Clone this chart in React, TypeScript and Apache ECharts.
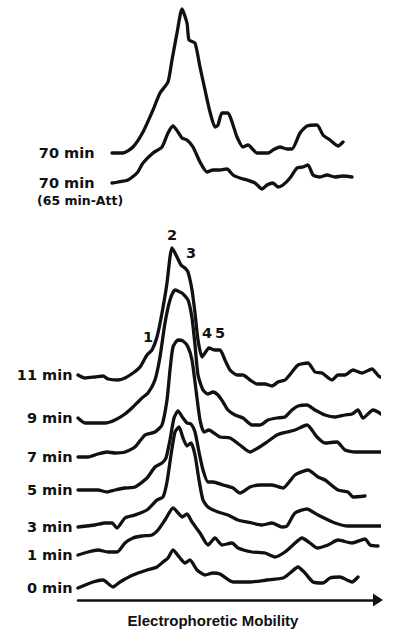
import React, { useEffect, useRef } from "react";
import * as echarts from "echarts";

// Densitometer traces: [mobility (arbitrary units), signal above own baseline]
const trace70 = [[34,0],[45,0],[55,6],[65,21],[75,43],[82,60],[90,71],[94,93],[99,120],[104,144],[109,130],[111,113],[117,110],[122,86],[127,63],[132,41],[137,26],[140,28],[144,40],[150,40],[155,28],[159,16],[165,6],[170,8],[179,0],[190,0],[195,3],[202,6],[209,4],[214,4],[222,20],[229,27],[239,28],[245,18],[252,13],[260,7],[265,11]];
const trace70Att = [[34,0],[40,1],[50,3],[59,10],[65,20],[75,30],[84,36],[90,50],[95,57],[100,51],[104,45],[109,43],[115,36],[122,21],[129,11],[135,13],[142,13],[149,14],[155,8],[162,5],[169,3],[177,0],[184,-6],[189,-2],[195,0],[200,-4],[205,-2],[212,5],[219,15],[225,16],[230,18],[235,8],[242,6],[249,8],[257,6],[265,7],[274,6]];
const trace11 = [[0,0],[7,-3],[17,-2],[25,-1],[30,-4],[40,-5],[47,-3],[55,2],[62,8],[69,20],[74,25],[79,38],[84,62],[89,92],[92,118],[94,127],[99,118],[103,110],[107,107],[110,103],[114,85],[117,62],[120,35],[124,18],[127,22],[131,27],[137,25],[142,25],[147,15],[152,5],[159,0],[165,0],[172,-5],[179,-9],[187,-9],[194,-11],[200,-7],[207,-5],[214,3],[220,10],[230,12],[237,3],[244,2],[254,-5],[260,0],[267,0],[275,5],[284,2],[294,6],[302,-2],[307,0],[312,2]];
const trace9 = [[0,0],[7,-5],[17,-5],[27,-5],[37,-2],[47,4],[55,11],[64,20],[70,25],[77,38],[82,61],[87,95],[92,118],[97,128],[104,125],[110,118],[114,100],[117,73],[120,43],[125,28],[130,24],[135,26],[140,23],[145,16],[150,8],[157,3],[165,0],[174,-7],[182,-7],[190,-2],[199,0],[207,1],[214,8],[220,12],[229,13],[237,8],[247,3],[257,1],[267,3],[274,4],[280,8],[285,0],[295,8],[300,6],[309,0]];
const trace7 = [[0,0],[10,0],[20,3],[29,5],[37,4],[47,5],[57,10],[67,22],[77,25],[84,32],[89,57],[92,87],[95,110],[100,117],[105,116],[110,110],[114,97],[118,67],[122,37],[126,25],[131,27],[136,24],[142,20],[152,19],[162,12],[172,5],[180,9],[189,15],[199,22],[209,25],[217,27],[229,32],[239,20],[247,14],[259,15],[267,7],[277,5],[287,5],[304,5]];
const trace5 = [[0,0],[10,0],[20,0],[29,-2],[37,0],[47,2],[57,3],[69,12],[77,23],[84,27],[88,32],[92,50],[96,72],[100,79],[105,72],[109,67],[113,66],[117,58],[121,38],[125,20],[130,8],[135,8],[145,5],[155,2],[162,-3],[172,3],[182,5],[194,5],[205,2],[217,15],[230,20],[240,13],[247,10],[260,0],[270,-2],[275,-7],[287,-6]];
const trace3 = [[0,0],[17,2],[27,4],[34,4],[39,-1],[47,9],[57,12],[69,17],[79,27],[85,30],[89,45],[93,72],[97,95],[101,100],[105,89],[109,81],[113,84],[117,72],[121,47],[125,27],[130,20],[140,15],[150,12],[160,7],[174,4],[184,2],[194,4],[204,0],[209,1],[217,14],[229,18],[240,12],[257,4],[270,1],[287,1],[304,1]];
const trace1 = [[0,0],[10,3],[20,5],[30,3],[39,3],[47,12],[55,17],[64,19],[74,20],[80,25],[87,35],[95,47],[102,40],[104,38],[109,41],[114,33],[122,22],[130,10],[137,17],[144,10],[154,12],[160,7],[174,3],[187,2],[197,-2],[207,3],[215,10],[224,17],[232,12],[239,7],[250,10],[260,15],[274,12],[287,16],[292,10],[300,9]];
const trace0 = [[0,0],[15,6],[25,8],[35,1],[42,6],[55,13],[69,18],[79,21],[85,26],[90,30],[95,38],[102,30],[107,25],[112,28],[119,18],[127,13],[135,15],[142,14],[155,6],[172,6],[189,8],[205,10],[212,15],[220,21],[227,15],[235,6],[245,5],[252,10],[262,11],[269,8],[274,6],[280,11]];

const traces = [trace70, trace70Att, trace11, trace9, trace7, trace5, trace3, trace1, trace0];
const traceNames = ["70 min", "70 min", "11 min", "9 min", "7 min", "5 min", "3 min", "1 min", "0 min"];
const traceOffsets = [447, 417, 225, 182, 143, 110, 73, 45, 12];
const attNote = "(65 min-Att)";

// peak annotations on the 11 min trace
const peakNames = ["1", "2", "3", "4", "5"];
const peakMobility = [74, 94, 110, 127, 137];
const peakLabelShift = [[-4, 0], [0, 0], [3, -6], [2, -7], [5, -4]];

const axisTitle = "Electrophoretic Mobility";

export default function App() {
  const ref = useRef<HTMLDivElement>(null);
  useEffect(() => {
    if (!ref.current) return;
    const chart = echarts.init(ref.current, null, { renderer: "svg" });
    const ink = "#111";

    const series = traces.map((tr, ti) => {
      const off = traceOffsets[ti];
      const upper = ti < 2;
      const marks: any[] = [
        {
          coord: [tr[0][0], tr[0][1] + off],
          label: {
            show: true,
            position: "left",
            distance: upper ? 17 : 5,
            formatter: traceNames[ti],
            color: ink,
            fontFamily: "DejaVu Sans",
            fontWeight: "bold",
            fontSize: 14.5,
          },
        },
      ];
      if (ti === 2) {
        peakMobility.forEach((m, k) => {
          const pt = tr.find((p) => p[0] === m);
          if (!pt) return;
          marks.push({
            coord: [pt[0], pt[1] + off],
            label: {
              show: true,
              position: "top",
              distance: 5,
              offset: peakLabelShift[k],
              formatter: peakNames[k],
              color: ink,
              fontFamily: "DejaVu Sans",
              fontWeight: "bold",
              fontSize: 14.5,
            },
          });
        });
      }
      return {
        type: "line",
        data: tr.map(([x, s]) => [x, s + off]),
        smooth: 0.2,
        clip: false,
        showSymbol: false,
        lineStyle: { color: ink, width: 3.3, cap: "round", join: "round" },
        emphasis: { disabled: true },
        silent: true,
        markPoint: {
          symbol: "circle",
          symbolSize: 1,
          itemStyle: { color: "rgba(0,0,0,0)" },
          silent: true,
          data: marks,
        },
      };
    });

    chart.setOption({
      animation: false,
      backgroundColor: "#fff",
      grid: { left: 78, right: 15, top: 0, bottom: 35 },
      xAxis: {
        type: "value",
        min: 0,
        max: 300,
        axisLine: {
          show: true,
          symbol: ["none", "triangle"],
          symbolSize: [13, 10],
          lineStyle: { color: ink, width: 2.5 },
        },
        axisTick: { show: false },
        axisLabel: { show: false },
        splitLine: { show: false },
        name: axisTitle,
        nameLocation: "middle",
        nameGap: 13,
        nameTextStyle: {
          color: ink,
          fontFamily: "Liberation Sans",
          fontWeight: "bold",
          fontSize: 15,
          padding: [0, 30, 0, 0],
        },
      },
      yAxis: { type: "value", min: 0, max: 600, show: false },
      series,
      graphic: [
        {
          type: "text",
          left: 37,
          top: 194,
          style: { text: attNote, fill: ink, font: "bold 12.5px 'DejaVu Sans'" },
        },
      ],
    });
    return () => chart.dispose();
  }, []);
  return (
    <div
      ref={ref}
      style={{ position: "fixed", left: 0, top: 0, width: 393, height: 635, background: "#fff" }}
    />
  );
}
